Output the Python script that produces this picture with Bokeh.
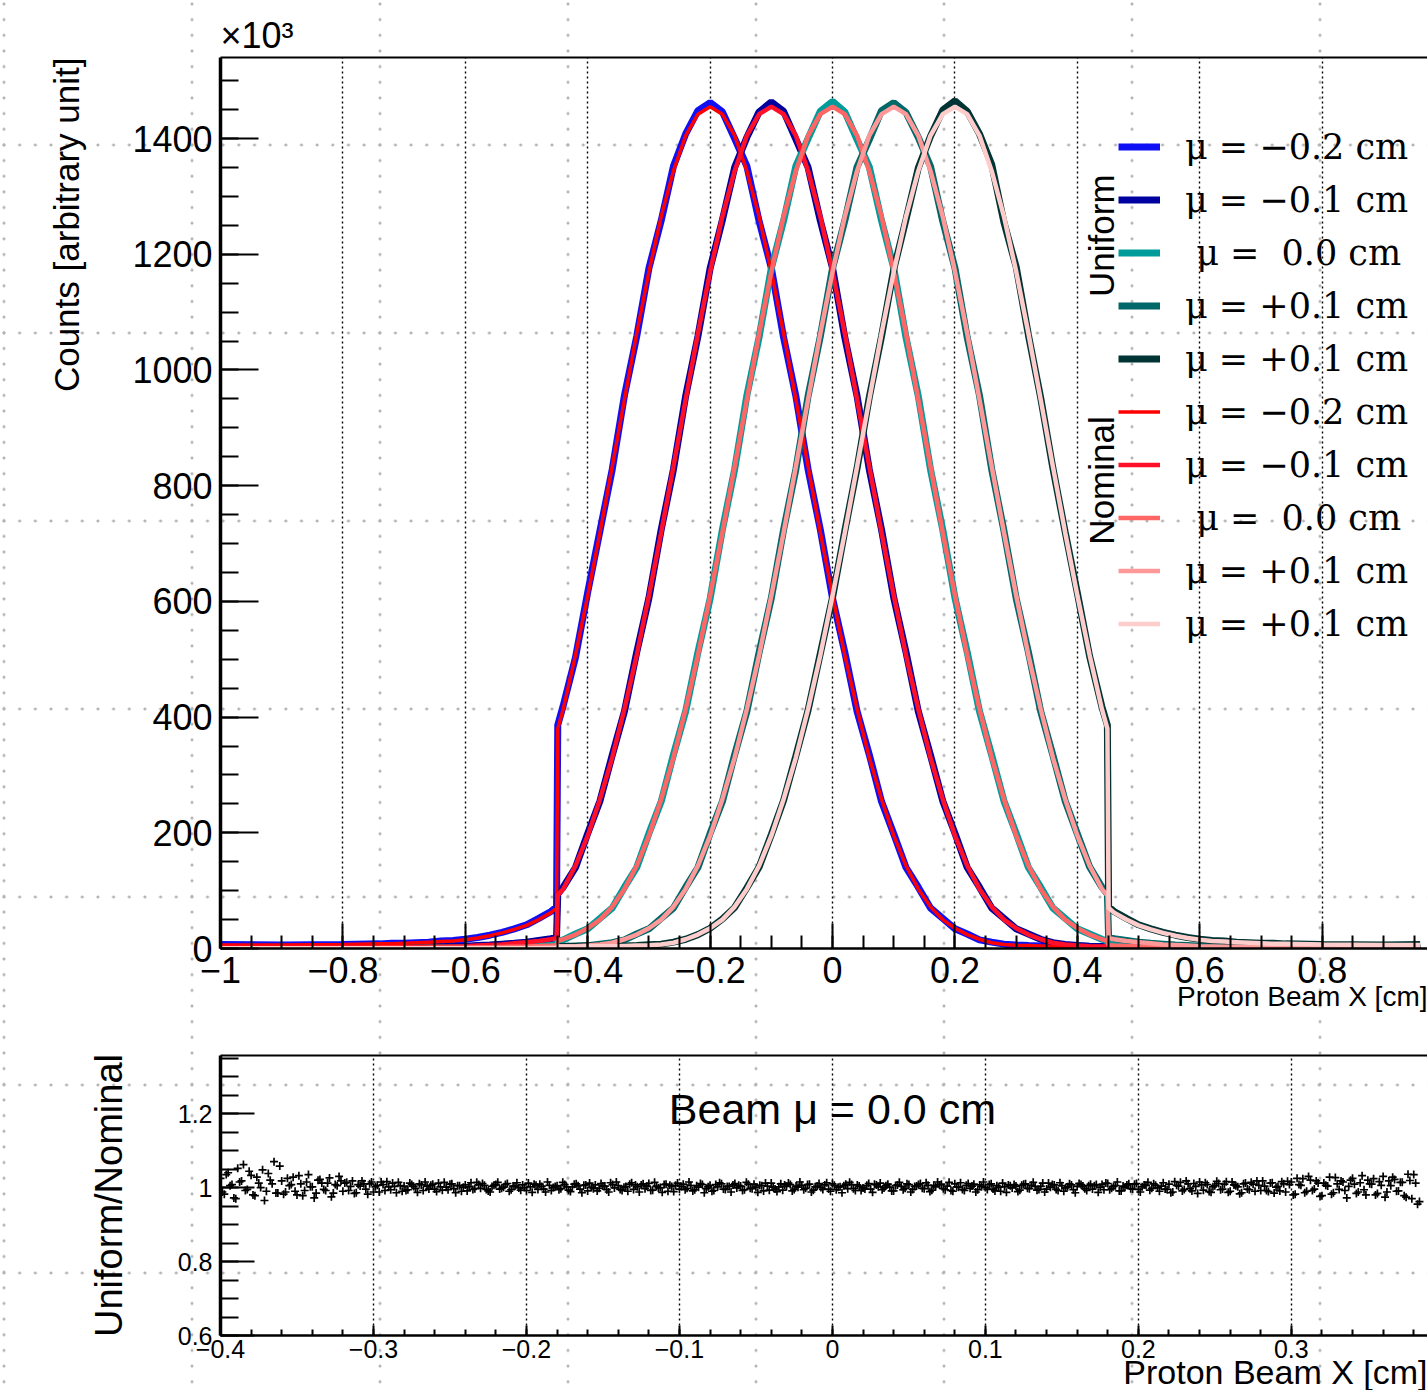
import numpy as np
from bokeh.plotting import figure
from bokeh.models import FixedTicker, LinearAxis, Legend, LegendItem, Label, Range1d, Title
from bokeh.layouts import column
from bokeh.embed import file_html
from bokeh.resources import INLINE

# ---------------- data (top panel, counts x10^3) ----------------
X = [-1.0, -0.9, -0.8, -0.74, -0.72, -0.7, -0.68, -0.66, -0.64, -0.62, -0.6, -0.58, -0.56, -0.54,
     -0.52, -0.5, -0.48, -0.46, -0.451, -0.449, -0.44, -0.42, -0.4, -0.38, -0.36, -0.34, -0.32,
     -0.3, -0.28, -0.26, -0.24, -0.22, -0.2, -0.18, -0.16, -0.14, -0.12, -0.1, -0.08, -0.06,
     -0.04, -0.02, 0.0, 0.02, 0.04, 0.06, 0.08, 0.1, 0.12, 0.14, 0.16, 0.18, 0.2, 0.22, 0.24,
     0.26, 0.28, 0.3, 0.32, 0.34, 0.36, 0.38, 0.4, 0.42, 0.44, 0.449, 0.451, 0.46, 0.48, 0.5,
     0.52, 0.54, 0.56, 0.58, 0.6, 0.62, 0.64, 0.66, 0.68, 0.7, 0.72, 0.74, 0.8, 0.9, 0.96]

U_M02 = [7, 6, 7, 8, 9, 9, 10, 11, 13, 14, 16, 19, 23, 28, 34, 41, 52, 64,
         72, 386,
         420, 503, 616, 722, 828, 956, 1058, 1176, 1258, 1352, 1408, 1448, 1462, 1446, 1400,
         1352, 1257, 1176, 1056, 955, 828, 724, 605, 512, 410, 335, 254, 198, 140, 106, 70, 52,
         34, 25, 15, 11, 7.5, 6, 5, 4.5, 4, 4, 4.5, 3.5, 3.5,
         3.5, 0.8,
         0.8, 0.7, 0.6, 0.6, 0.5, 0.5, 0.5, 0.4, 0.4, 0.4, 0.4, 0.3, 0.3, 0.3, 0.3, 0.3, 0.3, 0.3]
U_M01 = [1.5, 1.5, 2, 2, 2.5, 2.5, 3, 3, 3.5, 3.5, 4, 5, 6, 7.5, 9, 11, 14, 17,
         19, 94,
         106, 140, 199, 255, 334, 410, 512, 606, 724, 828, 955, 1058, 1176, 1259, 1350, 1402,
         1446, 1463, 1447, 1399, 1350, 1258, 1176, 1056, 955, 828, 724, 606, 512, 410, 334, 255,
         199, 140, 106, 70, 52, 34, 25, 16, 10, 7, 5, 4, 3.5,
         3.5, 0.7,
         0.7, 0.6, 0.5, 0.5, 0.5, 0.4, 0.4, 0.4, 0.4, 0.3, 0.3, 0.3, 0.3, 0.3, 0.3, 0.3, 0.3, 0.3]
U_000 = [0.5, 0.5, 0.6, 0.7, 0.8, 0.9, 1.0, 1.2, 1.3, 1.5, 1.8, 2.0, 2.4, 2.7, 3.2, 3.7, 4.3, 5,
         5.5, 13,
         15, 25, 34, 52, 70, 106, 140, 199, 254, 335, 410, 512, 605, 724, 828, 956, 1057, 1176,
         1258, 1352, 1400, 1447, 1464, 1446, 1398, 1351, 1258, 1176, 1056, 955, 828, 724, 606,
         512, 410, 334, 255, 199, 140, 106, 70, 52, 34, 25, 16,
         13, 5.5,
         5, 4.3, 3.7, 3.2, 2.7, 2.4, 2.0, 1.8, 1.5, 1.3, 1.2, 1.0, 0.9, 0.8, 0.7, 0.6, 0.5, 0.5]
U_P01 = [0.3, 0.3, 0.3, 0.3, 0.3, 0.3, 0.3, 0.3, 0.3, 0.4, 0.4, 0.4, 0.5, 0.5, 0.5, 0.6, 0.6, 0.7,
         0.7, 3.5,
         3.5, 4.5, 5, 7.5, 10, 15, 25, 34, 52, 70, 106, 140, 199, 254, 335, 410, 512, 606, 724,
         828, 955, 1058, 1176, 1258, 1351, 1398, 1448, 1462, 1445, 1402, 1352, 1257, 1176, 1056,
         956, 828, 722, 605, 512, 410, 334, 255, 198, 141, 106,
         94, 19,
         17, 14, 11, 9, 7.5, 6, 5, 4, 3.5, 3.5, 3, 3, 2.5, 2.5, 2, 2, 1.5, 1.5]
U_P02 = [0.3, 0.3, 0.3, 0.3, 0.3, 0.3, 0.3, 0.4, 0.4, 0.4, 0.4, 0.5, 0.5, 0.5, 0.6, 0.6, 0.7, 0.8,
         0.8, 3.5,
         3.5, 3.5, 4.5, 4, 4, 4.5, 5, 6.5, 7.5, 11, 16, 24, 35, 51, 71, 105, 141, 197, 256, 333,
         412, 510, 607, 722, 830, 953, 1058, 1174, 1260, 1349, 1404, 1449, 1465, 1447, 1408,
         1355, 1255, 1178, 1060, 952, 830, 720, 614, 505, 418,
         386, 72,
         64, 52, 41, 34, 28, 23, 19, 16, 14, 13, 11, 10, 9, 9, 8, 7, 6, 7]

N_M02 = [6, 6, 7, 8, 8, 9, 10, 11, 12, 13, 15, 18, 22, 27, 33, 40, 50, 62,
         70, 380,
         414, 507, 610, 719, 833, 949, 1063, 1170, 1265, 1344, 1405, 1442, 1455, 1442, 1405,
         1344, 1265, 1170, 1063, 949, 833, 719, 610, 507, 414, 330, 258, 195, 143, 103, 72, 50,
         35, 24, 16, 10, 7, 5.5, 5, 4.5, 4, 4, 4, 3.5, 3.5,
         3.5, 0.8,
         0.8, 0.7, 0.6, 0.6, 0.5, 0.5, 0.5, 0.4, 0.4, 0.4, 0.4, 0.3, 0.3, 0.3, 0.3, 0.3, 0.3, 0.3]
N_M01 = [1.5, 1.5, 2, 2, 2, 2.5, 2.5, 3, 3, 3.5, 4, 5, 6, 7, 9, 11, 13, 16,
         18, 92,
         103, 143, 195, 258, 330, 414, 507, 610, 719, 833, 949, 1063, 1170, 1265, 1344, 1405,
         1442, 1455, 1442, 1405, 1344, 1265, 1170, 1063, 949, 833, 719, 610, 507, 414, 330, 258,
         195, 143, 103, 72, 50, 35, 24, 16, 10, 7, 5, 4, 3.5,
         3.5, 0.7,
         0.7, 0.6, 0.5, 0.5, 0.5, 0.4, 0.4, 0.4, 0.4, 0.3, 0.3, 0.3, 0.3, 0.3, 0.3, 0.3, 0.3, 0.3]
N_000 = [0.5, 0.5, 0.6, 0.7, 0.8, 0.9, 1.0, 1.1, 1.3, 1.5, 1.7, 2.0, 2.3, 2.7, 3.1, 3.6, 4.2, 5,
         5.5, 13,
         16, 24, 35, 50, 72, 103, 143, 195, 258, 330, 414, 507, 610, 719, 833, 949, 1063, 1170,
         1265, 1344, 1405, 1442, 1455, 1442, 1405, 1344, 1265, 1170, 1063, 949, 833, 719, 610,
         507, 414, 330, 258, 195, 143, 103, 72, 50, 35, 24, 16,
         13, 5.5,
         5, 4.2, 3.6, 3.1, 2.7, 2.3, 2.0, 1.7, 1.5, 1.3, 1.1, 1.0, 0.9, 0.8, 0.7, 0.6, 0.5, 0.5]
N_P01 = [0.3, 0.3, 0.3, 0.3, 0.3, 0.3, 0.3, 0.3, 0.3, 0.4, 0.4, 0.4, 0.4, 0.5, 0.5, 0.5, 0.6, 0.7,
         0.7, 3.5,
         3.5, 4, 5, 7, 10, 16, 24, 35, 50, 72, 103, 143, 195, 258, 330, 414, 507, 610, 719, 833,
         949, 1063, 1170, 1265, 1344, 1405, 1442, 1455, 1442, 1405, 1344, 1265, 1170, 1063, 949,
         833, 719, 610, 507, 414, 330, 258, 195, 143, 103,
         92, 18,
         16, 13, 11, 9, 7, 6, 5, 4, 3.5, 3, 3, 2.5, 2.5, 2, 2, 2, 1.5, 1.5]
N_P02 = [0.3, 0.3, 0.3, 0.3, 0.3, 0.3, 0.3, 0.4, 0.4, 0.4, 0.4, 0.5, 0.5, 0.5, 0.6, 0.6, 0.7, 0.8,
         0.8, 3.5,
         3.5, 3.5, 4, 4, 4, 4.5, 5, 5.5, 7, 10, 16, 24, 35, 50, 72, 103, 143, 195, 258, 330, 414,
         507, 610, 719, 833, 949, 1063, 1170, 1265, 1344, 1405, 1442, 1455, 1442, 1405, 1344,
         1265, 1170, 1063, 949, 833, 719, 610, 507, 414,
         380, 70,
         62, 50, 40, 33, 27, 22, 18, 15, 13, 12, 11, 10, 9, 8, 8, 7, 6, 6]

LABELS = ["μ = −0.2 cm", "μ = −0.1 cm", " μ =  0.0 cm", "μ = +0.1 cm", "μ = +0.1 cm"]
U_COLORS = ["#1010f5", "#0000a0", "#009c9c", "#006868", "#003333"]
N_COLORS = ["#ff0000", "#ff1028", "#ff6666", "#ff9999", "#ffcccc"]

# ---------------- data (bottom panel, ratio; two interleaved bin sets) ----------------
RATIO_A = [
    1.025, 0.982, 1.040, 1.008, 0.970, 1.015, 1.062, 0.995, 1.033, 0.978, 1.012, 1.048, 0.990, 1.020, 1.070, 0.985,
    1.018, 0.988, 1.005, 1.028, 0.980, 1.010, 0.992, 1.035, 1.002, 0.985, 1.022, 0.995, 1.012, 0.975, 1.008, 1.030,
    0.990, 1.014, 1.003, 0.984, 1.008, 1.018, 0.996, 1.010, 0.988, 1.006, 1.015, 0.992, 1.002, 1.012, 0.986, 1.005,
    1.004, 0.994, 1.008, 0.998, 1.010, 0.992, 1.003, 1.006, 0.996, 1.012, 0.993, 1.001, 1.009, 0.997, 1.005, 0.990, 1.007, 1.002, 0.995, 1.014,
    0.998, 1.006, 0.991, 1.003, 1.008, 0.996, 1.001, 1.011, 0.994, 1.004, 0.999, 1.007, 0.992, 1.002, 1.009, 0.995, 1.003, 0.988, 1.006, 1.000,
    1.005, 0.997, 1.008, 0.993, 1.002, 1.010, 0.996, 1.006, 0.991, 1.001, 1.007, 0.998, 1.004, 0.994, 1.013, 0.999, 1.005, 0.992, 1.003, 1.009,
    0.995, 1.002, 1.007, 0.997, 1.011, 0.993, 1.004, 1.000, 1.008, 0.990, 1.003, 1.006, 0.996, 1.009, 0.998, 1.005, 0.994, 1.001, 1.008, 0.997,
    1.006, 0.992, 1.002, 1.010, 0.995, 1.003, 1.007, 0.999, 1.004, 0.994, 1.009, 0.997, 1.001, 1.006, 0.991, 1.004, 1.012, 0.996, 1.002, 0.993,
    1.003, 1.008, 0.995, 1.001, 1.006, 0.998, 1.009, 0.993, 1.004, 1.000, 1.007, 0.996, 1.010, 0.994, 1.002, 1.005, 0.997, 1.008, 0.992, 1.004,
    0.999, 1.006, 0.996, 1.009, 1.002, 0.994, 1.005, 1.001, 0.991, 1.007, 1.003, 0.998, 1.008, 0.995, 1.004, 1.011, 0.997, 1.006, 0.993, 1.002,
    1.007, 0.997, 1.004, 0.992, 1.010, 1.001, 0.995, 1.006, 0.998, 1.009, 0.994, 1.003, 1.000, 1.008, 0.996, 1.005, 0.990, 1.002, 1.007, 0.999,
    1.004, 0.993, 1.009, 0.998, 1.006, 1.003, 0.995, 1.012, 0.996, 1.001, 1.007, 0.992, 1.005, 0.999, 1.010, 0.994, 1.003, 1.008, 0.997, 1.005,
    0.996, 1.008, 1.001, 0.994, 1.011, 0.998, 1.005, 0.991, 1.004, 1.007, 0.997, 1.009, 0.995, 1.002, 1.006, 0.993, 1.010, 0.999, 1.004, 0.996,
    1.009, 0.988, 1.006, 1.014, 0.995, 1.010, 0.991, 1.003, 1.015, 0.993, 1.008, 0.987, 1.005, 1.011, 0.996, 1.016,
    0.990, 1.007, 1.002, 0.986, 1.012, 0.994, 1.009, 1.018, 0.992, 1.004, 0.989, 1.013, 1.001, 0.991, 1.010, 1.017,
    1.015, 0.982, 1.008, 1.024, 0.990, 1.020, 0.996, 1.012, 0.978, 1.006, 1.028, 0.986, 1.010, 1.018, 0.992, 1.003, 1.025,
    0.984, 1.013, 0.994, 1.020, 1.009, 0.980, 1.016, 1.030, 0.988, 1.005, 1.022, 0.991, 1.014, 0.974, 1.019, 1.035, 0.955,
]
RATIO_B = [
    0.988, 1.035, 1.005, 0.972, 1.052, 1.018, 0.992, 1.044, 0.980, 1.028, 1.000, 0.965, 1.038, 1.010, 0.985, 1.058,
    0.982, 1.025, 1.008, 0.990, 1.032, 0.978, 1.015, 1.002, 0.972, 1.020, 1.012, 0.992, 1.026, 0.985, 1.005, 1.018,
    1.012, 0.992, 1.018, 0.986, 1.004, 1.010, 0.982, 1.015, 1.002, 0.988, 1.008, 1.016, 0.994, 1.003, 1.014, 0.990,
    0.992, 1.012, 1.003, 0.987, 1.007, 1.015, 0.996, 1.009, 0.989, 1.002, 1.014, 0.994, 1.010, 0.986, 1.005, 1.001, 0.991, 1.013, 0.997, 1.008,
    1.011, 0.995, 0.988, 1.006, 1.014, 0.998, 1.008, 0.990, 1.004, 1.013, 0.993, 1.000, 1.012, 0.987, 1.006, 1.009, 0.996, 1.015, 0.992, 1.003,
    0.994, 1.014, 1.002, 0.989, 1.009, 1.005, 0.986, 1.007, 1.012, 0.997, 0.991, 1.011, 1.004, 0.988, 1.008, 1.015, 0.995, 1.001, 0.990, 1.013,
    1.007, 0.988, 1.010, 1.004, 0.992, 1.014, 0.999, 0.987, 1.009, 1.006, 0.989, 1.012, 1.003, 0.994, 1.015, 0.991, 1.005, 1.011, 0.986, 1.002,
    0.990, 1.008, 1.013, 0.996, 1.003, 0.988, 1.011, 1.006, 0.992, 1.014, 0.998, 1.009, 0.987, 1.005, 1.012, 0.993, 1.001, 0.989, 1.010, 1.007,
    1.012, 0.991, 1.004, 1.015, 0.994, 1.008, 0.988, 1.002, 1.011, 0.995, 1.013, 0.990, 1.006, 1.001, 0.986, 1.009, 1.014, 0.997, 1.007, 0.992,
    0.996, 1.011, 0.987, 1.007, 1.012, 0.999, 1.009, 0.991, 1.005, 1.014, 0.994, 1.010, 0.988, 1.003, 1.008, 0.998, 1.013, 0.989, 1.006, 1.015,
    1.009, 0.994, 1.014, 0.990, 1.002, 1.013, 0.992, 1.011, 1.004, 0.988, 1.007, 1.015, 0.995, 1.010, 0.991, 1.001, 1.012, 0.987, 1.005, 1.008,
    0.989, 1.006, 1.010, 0.997, 1.014, 0.993, 1.003, 0.988, 1.012, 1.008, 0.995, 1.013, 0.990, 1.002, 1.007, 0.986, 1.011, 1.004, 0.992, 1.009,
    1.005, 0.987, 1.008, 1.012, 0.994, 1.003, 1.015, 0.991, 1.001, 1.010, 0.996, 1.011, 0.988, 1.007, 1.014, 0.998, 1.006, 0.990, 1.013, 0.995,
    0.986, 1.016, 1.004, 0.991, 1.018, 0.997, 1.011, 0.984, 1.007, 1.013, 0.989, 1.002, 1.017, 0.994, 1.009, 0.987,
    1.015, 1.005, 0.983, 1.010, 0.996, 1.014, 0.990, 1.006, 1.018, 0.992, 1.012, 0.985, 1.003, 1.016, 0.988, 1.008,
    0.980, 1.025, 1.006, 0.986, 1.030, 0.992, 1.018, 0.976, 1.012, 1.004, 0.982, 1.027, 0.995, 1.015, 0.972, 1.020, 1.009,
    0.988, 1.032, 0.980, 1.010, 1.024, 0.984, 1.006, 0.974, 1.018, 1.028, 0.990, 1.014, 0.978, 1.036, 0.970, 1.012, 0.962,
]
RX_A = [round(-0.4 + 0.0025 * i, 5) for i in range(len(RATIO_A))]
RX_B = [round(-0.39875 + 0.0025 * i, 5) for i in range(len(RATIO_B))]

# ---------------- ticks ----------------
XT = [-1.0, -0.8, -0.6, -0.4, -0.2, 0.0, 0.2, 0.4, 0.6, 0.8]
XT_LAB = ["−1", "−0.8", "−0.6", "−0.4", "−0.2", "0", "0.2", "0.4", "0.6", "0.8"]
YT = [0, 200, 400, 600, 800, 1000, 1200, 1400]
BXT = [-0.4, -0.3, -0.2, -0.1, 0.0, 0.1, 0.2, 0.3]
BXT_LAB = ["−0.4", "−0.3", "−0.2", "−0.1", "0", "0.1", "0.2", "0.3"]
BYT = [0.6, 0.8, 1.0, 1.2]
BYT_LAB = ["0.6", "0.8", "1", "1.2"]

SANS = "Liberation Sans"
SERIF = "DejaVu Serif"


def axis_title(fig, side, text, size, standoff, valign):
    """ROOT-style axis title, right/top aligned at the end of the axis."""
    fig.add_layout(Title(text=text, align="right", vertical_align=valign, text_font=SANS,
                         text_font_size=size, text_font_style="normal", text_color="black",
                         standoff=standoff), side)


def style_axis(ax, maj_in, min_in, width, size, standoff):
    ax.major_tick_in, ax.major_tick_out = maj_in, 0
    ax.minor_tick_in, ax.minor_tick_out = min_in, 0
    ax.axis_line_width = width
    ax.major_tick_line_width = 2
    ax.minor_tick_line_width = 2
    ax.major_label_text_font = SANS
    ax.major_label_text_font_size = size
    ax.major_label_text_color = "black"
    ax.major_label_standoff = standoff


def border_axis():
    return LinearAxis(ticker=FixedTicker(ticks=[]), major_label_text_font_size="0px",
                      major_tick_in=0, major_tick_out=0, minor_tick_in=0, minor_tick_out=0,
                      axis_line_width=2)


# ---------------- top figure ----------------
top = figure(width=1427, height=1030, x_range=Range1d(-1.0, 0.972), y_range=Range1d(0, 1540),
             output_backend="svg", toolbar_location=None,
             min_border_left=220, min_border_right=0, min_border_top=57, min_border_bottom=82)
top.background_fill_color = None
top.border_fill_color = None
top.outline_line_color = None

xa = top.xaxis[0]
xa.ticker = FixedTicker(ticks=XT, minor_ticks=[round(-1 + 0.05 * i, 2) for i in range(40)])
xa.major_label_overrides = dict(zip(XT, XT_LAB))
style_axis(xa, 25, 13, 2.5, "36px", 8)
axis_title(top, "below", "Proton Beam X [cm]", "28px", -13, "bottom")

ya = top.yaxis[0]
ya.ticker = FixedTicker(ticks=YT, minor_ticks=[50 * i for i in range(31)])
style_axis(ya, 38, 18, 3.5, "36px", 8)
axis_title(top, "left", "Counts [arbitrary unit]", "35px", 84, "top")

top.add_layout(border_axis(), "above")
top.add_layout(Title(text="×10³", align="left", text_font=SANS, text_font_size="36px",
                     text_font_style="normal", text_color="black", standoff=3), "above")

top.xgrid.ticker = FixedTicker(ticks=XT)
top.xgrid.grid_line_color = "black"
top.xgrid.grid_line_dash = "2 3"
top.xgrid.grid_line_width = 1.4
top.ygrid.visible = False

U_SERIES = [U_M02, U_M01, U_000, U_P01, U_P02]
N_SERIES = [N_M02, N_M01, N_000, N_P01, N_P02]
u_r = [top.line(X, ys, line_color=c, line_width=7) for ys, c in zip(U_SERIES, U_COLORS)]
n_w = [3.5, 4.5, 4.5, 4.5, 4.5]
n_r = [top.line(X, ys, line_color=c, line_width=w) for ys, c, w in zip(N_SERIES, N_COLORS, n_w)]

items = [LegendItem(label=l, renderers=[r]) for l, r in zip(LABELS, u_r)] + \
        [LegendItem(label=l, renderers=[r]) for l, r in zip(LABELS, n_r)]
legend = Legend(items=items, location=(898, 298), orientation="vertical",
                glyph_width=42, glyph_height=53, label_height=53, spacing=0, padding=0, margin=0,
                label_standoff=25, background_fill_alpha=0, border_line_alpha=0,
                label_text_font=SERIF, label_text_font_size="35px", label_text_color="black")
top.add_layout(legend)

top.add_layout(Label(x=0.4395, y=1232, text="Uniform", angle=np.pi / 2, text_font=SANS,
                     text_font_size="35px", text_align="center", text_baseline="middle",
                     text_color="black"))
top.add_layout(Label(x=0.4395, y=809, text="Nominal", angle=np.pi / 2, text_font=SANS,
                     text_font_size="35px", text_align="center", text_baseline="middle",
                     text_color="black"))

# ---------------- bottom figure ----------------
bot = figure(width=1427, height=360, x_range=Range1d(-0.4, 0.389), y_range=Range1d(0.6, 1.357),
             output_backend="svg", toolbar_location=None,
             min_border_left=220, min_border_right=0, min_border_top=25, min_border_bottom=55)
bot.background_fill_color = None
bot.border_fill_color = None
bot.outline_line_color = None

bx = bot.xaxis[0]
bx.ticker = FixedTicker(ticks=BXT, minor_ticks=[round(-0.4 + 0.02 * i, 2) for i in range(40)])
bx.major_label_overrides = dict(zip(BXT, BXT_LAB))
style_axis(bx, 10, 6, 2.5, "25px", 4)
axis_title(bot, "below", "Proton Beam X [cm]", "34px", -20, "bottom")

by = bot.yaxis[0]
by.ticker = FixedTicker(ticks=BYT, minor_ticks=[round(0.6 + 0.05 * i, 2) for i in range(16)])
by.major_label_overrides = dict(zip(BYT, BYT_LAB))
style_axis(by, 34, 18, 3.5, "25px", 8)
by.axis_label = "Uniform/Nominal"
by.axis_label_text_font = SANS
by.axis_label_text_font_size = "38px"
by.axis_label_text_font_style = "normal"
by.axis_label_text_color = "black"
by.axis_label_standoff = 45

bot.add_layout(border_axis(), "above")

bot.xgrid.ticker = FixedTicker(ticks=BXT)
bot.xgrid.grid_line_color = "black"
bot.xgrid.grid_line_dash = "2 3"
bot.xgrid.grid_line_width = 1.4
bot.ygrid.visible = False

bot.scatter(RX_A, RATIO_A, marker="cross", size=8, line_color="black", line_width=1.7)
bot.scatter(RX_B, RATIO_B, marker="cross", size=8, line_color="black", line_width=1.7)

bot.add_layout(Label(x=0.0, y=1.2135, text="Beam μ = 0.0 cm", text_font=SANS,
                     text_font_size="43px", text_align="center", text_baseline="middle",
                     text_color="black"))

dots = "radial-gradient(circle, #b4b4b4 0px, #b4b4b4 1.2px, rgba(255,255,255,0) 1.8px)"
layout = column(top, bot, spacing=0, styles={
    "background-image": dots + ", " + dots,
    "background-size": "188px 15.667px, 15.667px 188px",
    "background-position": "98px 11.83px, 11.83px 51px",
})

open("out.html", "w").write(file_html(layout, INLINE))
